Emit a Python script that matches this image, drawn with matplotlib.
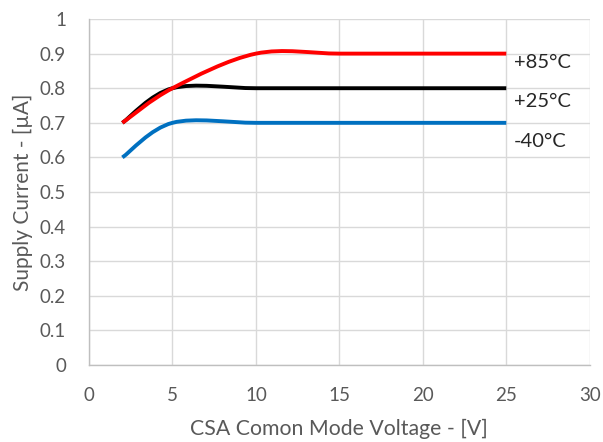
import matplotlib
matplotlib.use("Agg")
import matplotlib.pyplot as plt
from matplotlib.path import Path
from matplotlib.patches import PathPatch
import numpy as np

plt.rcParams['font.family'] = ['Lato', 'DejaVu Sans']

voltage = [2, 5, 10, 15, 20, 25]
current_85 = [0.70, 0.80, 0.90, 0.90, 0.90, 0.90]
current_25 = [0.70, 0.80, 0.80, 0.80, 0.80, 0.80]
current_m40 = [0.60, 0.70, 0.70, 0.70, 0.70, 0.70]
series_labels = ["+85°C", "+25°C", "-40°C"]
series_colors = ["#ff0000", "#000000", "#0070c0"]
label_y = [0.875, 0.762, 0.646]

x_ticks = [0, 5, 10, 15, 20, 25, 30]
y_ticks = [0, 0.1, 0.2, 0.3, 0.4, 0.5, 0.6, 0.7, 0.8, 0.9, 1]
y_tick_labels = ["0", "0.1", "0.2", "0.3", "0.4", "0.5", "0.6", "0.7", "0.8", "0.9", "1"]


def smooth_path(xs, ys):
    pts = np.column_stack([xs, ys]).astype(float)
    n = len(pts)
    verts = [pts[0]]
    codes = [Path.MOVETO]
    for i in range(n - 1):
        p0 = pts[max(i - 1, 0)]
        p1 = pts[i]
        p2 = pts[i + 1]
        p3 = pts[min(i + 2, n - 1)]
        c1 = p1 + (p2 - p0) / 6.0
        c2 = p2 - (p3 - p1) / 6.0
        verts += [c1, c2, p2]
        codes += [Path.CURVE4] * 3
    return Path(verts, codes)


fig = plt.figure(figsize=(6.03, 4.42), dpi=100)
ax = fig.add_axes([0.1476, 0.174, 0.8304, 0.783])

order = [(current_25, series_colors[1]), (current_m40, series_colors[2]), (current_85, series_colors[0])]
for ys, col in order:
    patch = PathPatch(smooth_path(voltage, ys), facecolor='none', edgecolor=col,
                      lw=2.8, capstyle='butt', joinstyle='round', zorder=3)
    ax.add_patch(patch)

for lab, yy in zip(series_labels, label_y):
    ax.text(25.45, yy, lab, fontsize=14.5, color='#262626', va='center', ha='left', zorder=4)

ax.set_xlim(0, 30)
ax.set_ylim(0, 1)
ax.set_xticks(x_ticks)
ax.set_yticks(y_ticks)
ax.set_yticklabels(y_tick_labels)
ax.grid(True, color='#d9d9d9', lw=1.0, zorder=0)
ax.set_axisbelow(True)
ax.tick_params(length=0, labelsize=13.5, colors='#595959')
ax.tick_params(axis='y', pad=16.5)
ax.tick_params(axis='x', pad=15.5)
for s in ['top', 'right']:
    ax.spines[s].set_visible(False)
for s in ['left', 'bottom']:
    ax.spines[s].set_color('#bfbfbf')
    ax.spines[s].set_linewidth(1.0)

ax.set_xlabel("CSA Comon Mode Voltage - [V]", fontsize=15.3, color='#595959', labelpad=11)
ax.set_ylabel("Supply Current - [µA]", fontsize=15, color='#595959', labelpad=5)

fig.savefig("out.png", dpi=100, facecolor='white')
